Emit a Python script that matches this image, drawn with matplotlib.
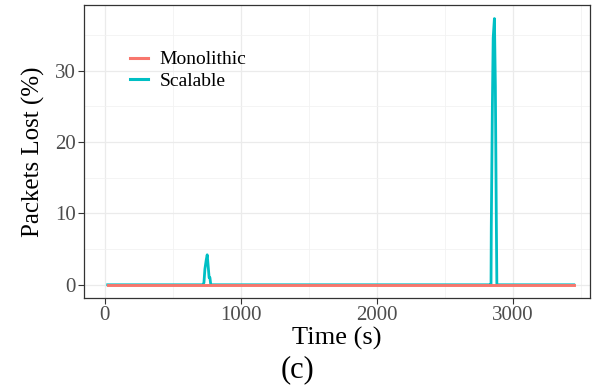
import numpy as np
import matplotlib
matplotlib.use("Agg")
import matplotlib.pyplot as plt
from matplotlib.ticker import MultipleLocator

plt.rcParams['font.family'] = ['Liberation Serif', 'DejaVu Serif']

# Monolithic run: no loss over the whole experiment
mono_t = [21, 3445]
mono_loss = [0, 0]

# Scalable run: two short loss bursts
scal_t = [21, 720, 728, 735, 745, 752, 760, 766, 772, 778,
          2830, 2837, 2839, 2847, 2853, 2862, 2869, 2876, 2880, 3445]
scal_loss = [0, 0, 0.3, 2.2, 3.5, 4.2, 2.4, 1.0, 1.0, 0,
             0, 0, 8.0, 25.0, 34.6, 37.3, 27.8, 9.0, 0, 0]

red = '#F8766D'
teal = '#00BFC4'

fig = plt.figure(figsize=(5.95, 3.85), dpi=100)
ax = fig.add_axes([0.141, 0.226, 0.851, 0.761])

ax.plot(scal_t, scal_loss, color=teal, lw=2.0, label='Scalable', zorder=3)
ax.plot(mono_t, mono_loss, color=red, lw=2.1, label='Monolithic', zorder=4)

ax.set_xlim(-154, 3566)
ax.set_ylim(-1.85, 39.2)
ax.xaxis.set_major_locator(MultipleLocator(1000))
ax.xaxis.set_minor_locator(MultipleLocator(500))
ax.yaxis.set_major_locator(MultipleLocator(10))
ax.yaxis.set_minor_locator(MultipleLocator(5))

ax.grid(which='major', color='#EBEBEB', lw=0.9, zorder=0)
ax.grid(which='minor', color='#F2F2F2', lw=0.6, zorder=0)
ax.set_axisbelow(True)

for s in ax.spines.values():
    s.set_color('#333333')
    s.set_linewidth(0.9)

ax.tick_params(which='major', direction='out', length=4, width=0.8,
               color='#333333', labelsize=15, labelcolor='#4D4D4D', pad=2)
ax.tick_params(which='minor', length=0)

ax.set_xlabel('Time (s)', fontsize=19, labelpad=1)
ax.set_ylabel('Packets Lost (%)', fontsize=18, labelpad=7)
fig.text(0.5, 0.04, '(c)', ha='center', va='center', fontsize=22)

handles, labels = ax.get_legend_handles_labels()
leg = ax.legend(handles[::-1], labels[::-1], loc='upper left',
                bbox_to_anchor=(0.076, 0.87), frameon=False, fontsize=14,
                handlelength=0.9, handletextpad=0.6, labelspacing=0.18,
                borderaxespad=0)
for h in leg.get_lines():
    h.set_linewidth(2.2)

fig.savefig('out.png', dpi=100)
